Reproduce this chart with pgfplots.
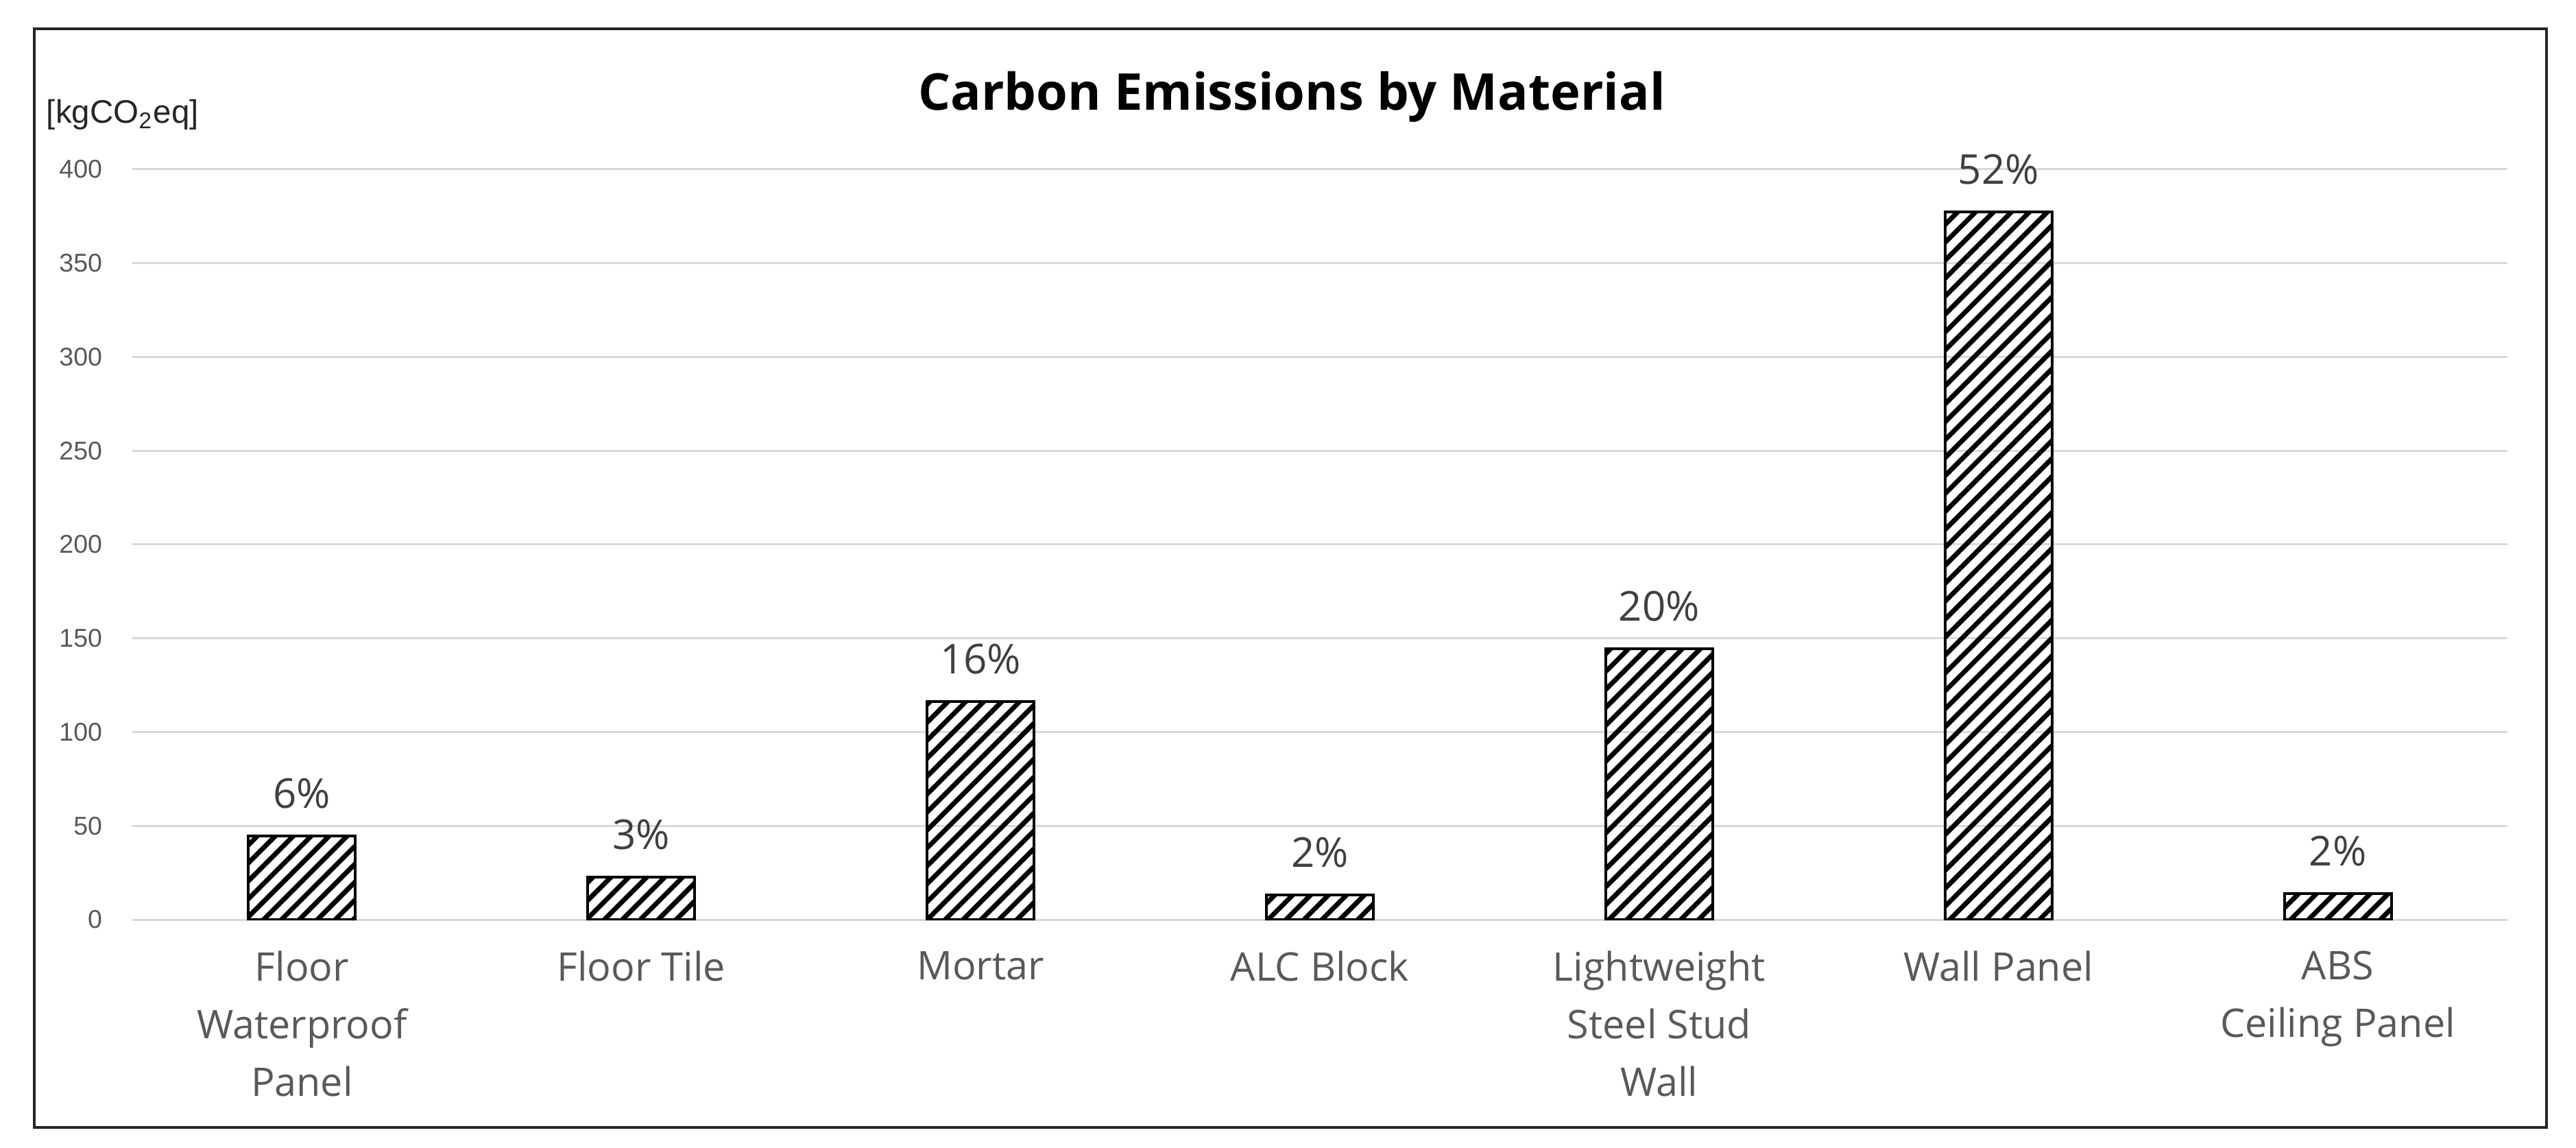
\documentclass[border=0pt]{standalone}
\usepackage{fontspec}
\setmainfont{Open Sans}
\newfontfamily\arialfont{Liberation Sans}
\usepackage{pgfplots}
\pgfplotsset{compat=1.18}
\usetikzlibrary{patterns.meta}
\definecolor{gridgray}{HTML}{D9D9D9}
\definecolor{labgray}{HTML}{595959}
\definecolor{pctgray}{HTML}{404040}
\begin{document}
\begin{tikzpicture}[x=1pt,y=1pt]
\path (0,0) rectangle (751.4,334.6);
\draw[line width=0.8pt, black!85] (10,5.8) rectangle (742.8,326.2);
\node[anchor=base, font=\bfseries\fontsize{14.8}{18}\selectfont] at (376.8,302.4) {Carbon Emissions by Material};
\node[anchor=base west, inner sep=0pt, font=\arialfont\fontsize{9.5}{11}\selectfont, text=black!85] at (13.4,298.6) {[kgCO\textsubscript{2}eq]};
\begin{axis}[
  at={(38.6pt,66.4pt)}, anchor=south west,
  width=692.8pt, height=218.8pt, scale only axis,
  xmin=-0.5, xmax=6.5, ymin=0, ymax=400,
  ytick={0,50,...,400},
  xtick={0,...,6},
  xticklabels={{Floor\\Waterproof\\Panel},{Floor Tile},{Mortar},{ALC Block},{Lightweight\\Steel Stud\\Wall},{Wall Panel},{ABS\\Ceiling Panel}},
  axis line style={draw=none},
  major tick style={draw=none},
  ymajorgrids, grid style={gridgray, line width=0.6pt},
  /pgf/number format/assume math mode=true,
  yticklabel style={font=\arialfont\fontsize{7.5}{9}\selectfont, text=labgray, anchor=east, inner sep=0pt, xshift=-8.6pt},
  xticklabel style={font=\fontsize{11.5}{16.8}\selectfont, text=labgray, align=center, anchor=north, inner sep=0pt, yshift=-9.0pt},
]
\addplot[ybar, bar width=31.2pt, draw=black, line width=0.8pt,
  pattern={Lines[angle=45,distance=3.7pt,line width=1.4pt]}, pattern color=black,
  point meta=explicit,
  nodes near coords={\pgfmathprintnumber{\pgfplotspointmeta}\%},
  every node near coord/.append style={font=\fontsize{12}{14}\selectfont, text=pctgray, anchor=center, yshift=12.4pt, inner sep=0pt}]
coordinates {
(0,44.5) [6]
(1,22.8) [3]
(2,116.4) [16]
(3,13.0) [2]
(4,144.4) [20]
(5,377.3) [52]
(6,14.0) [2]
};
\end{axis}
\end{tikzpicture}
\end{document}
